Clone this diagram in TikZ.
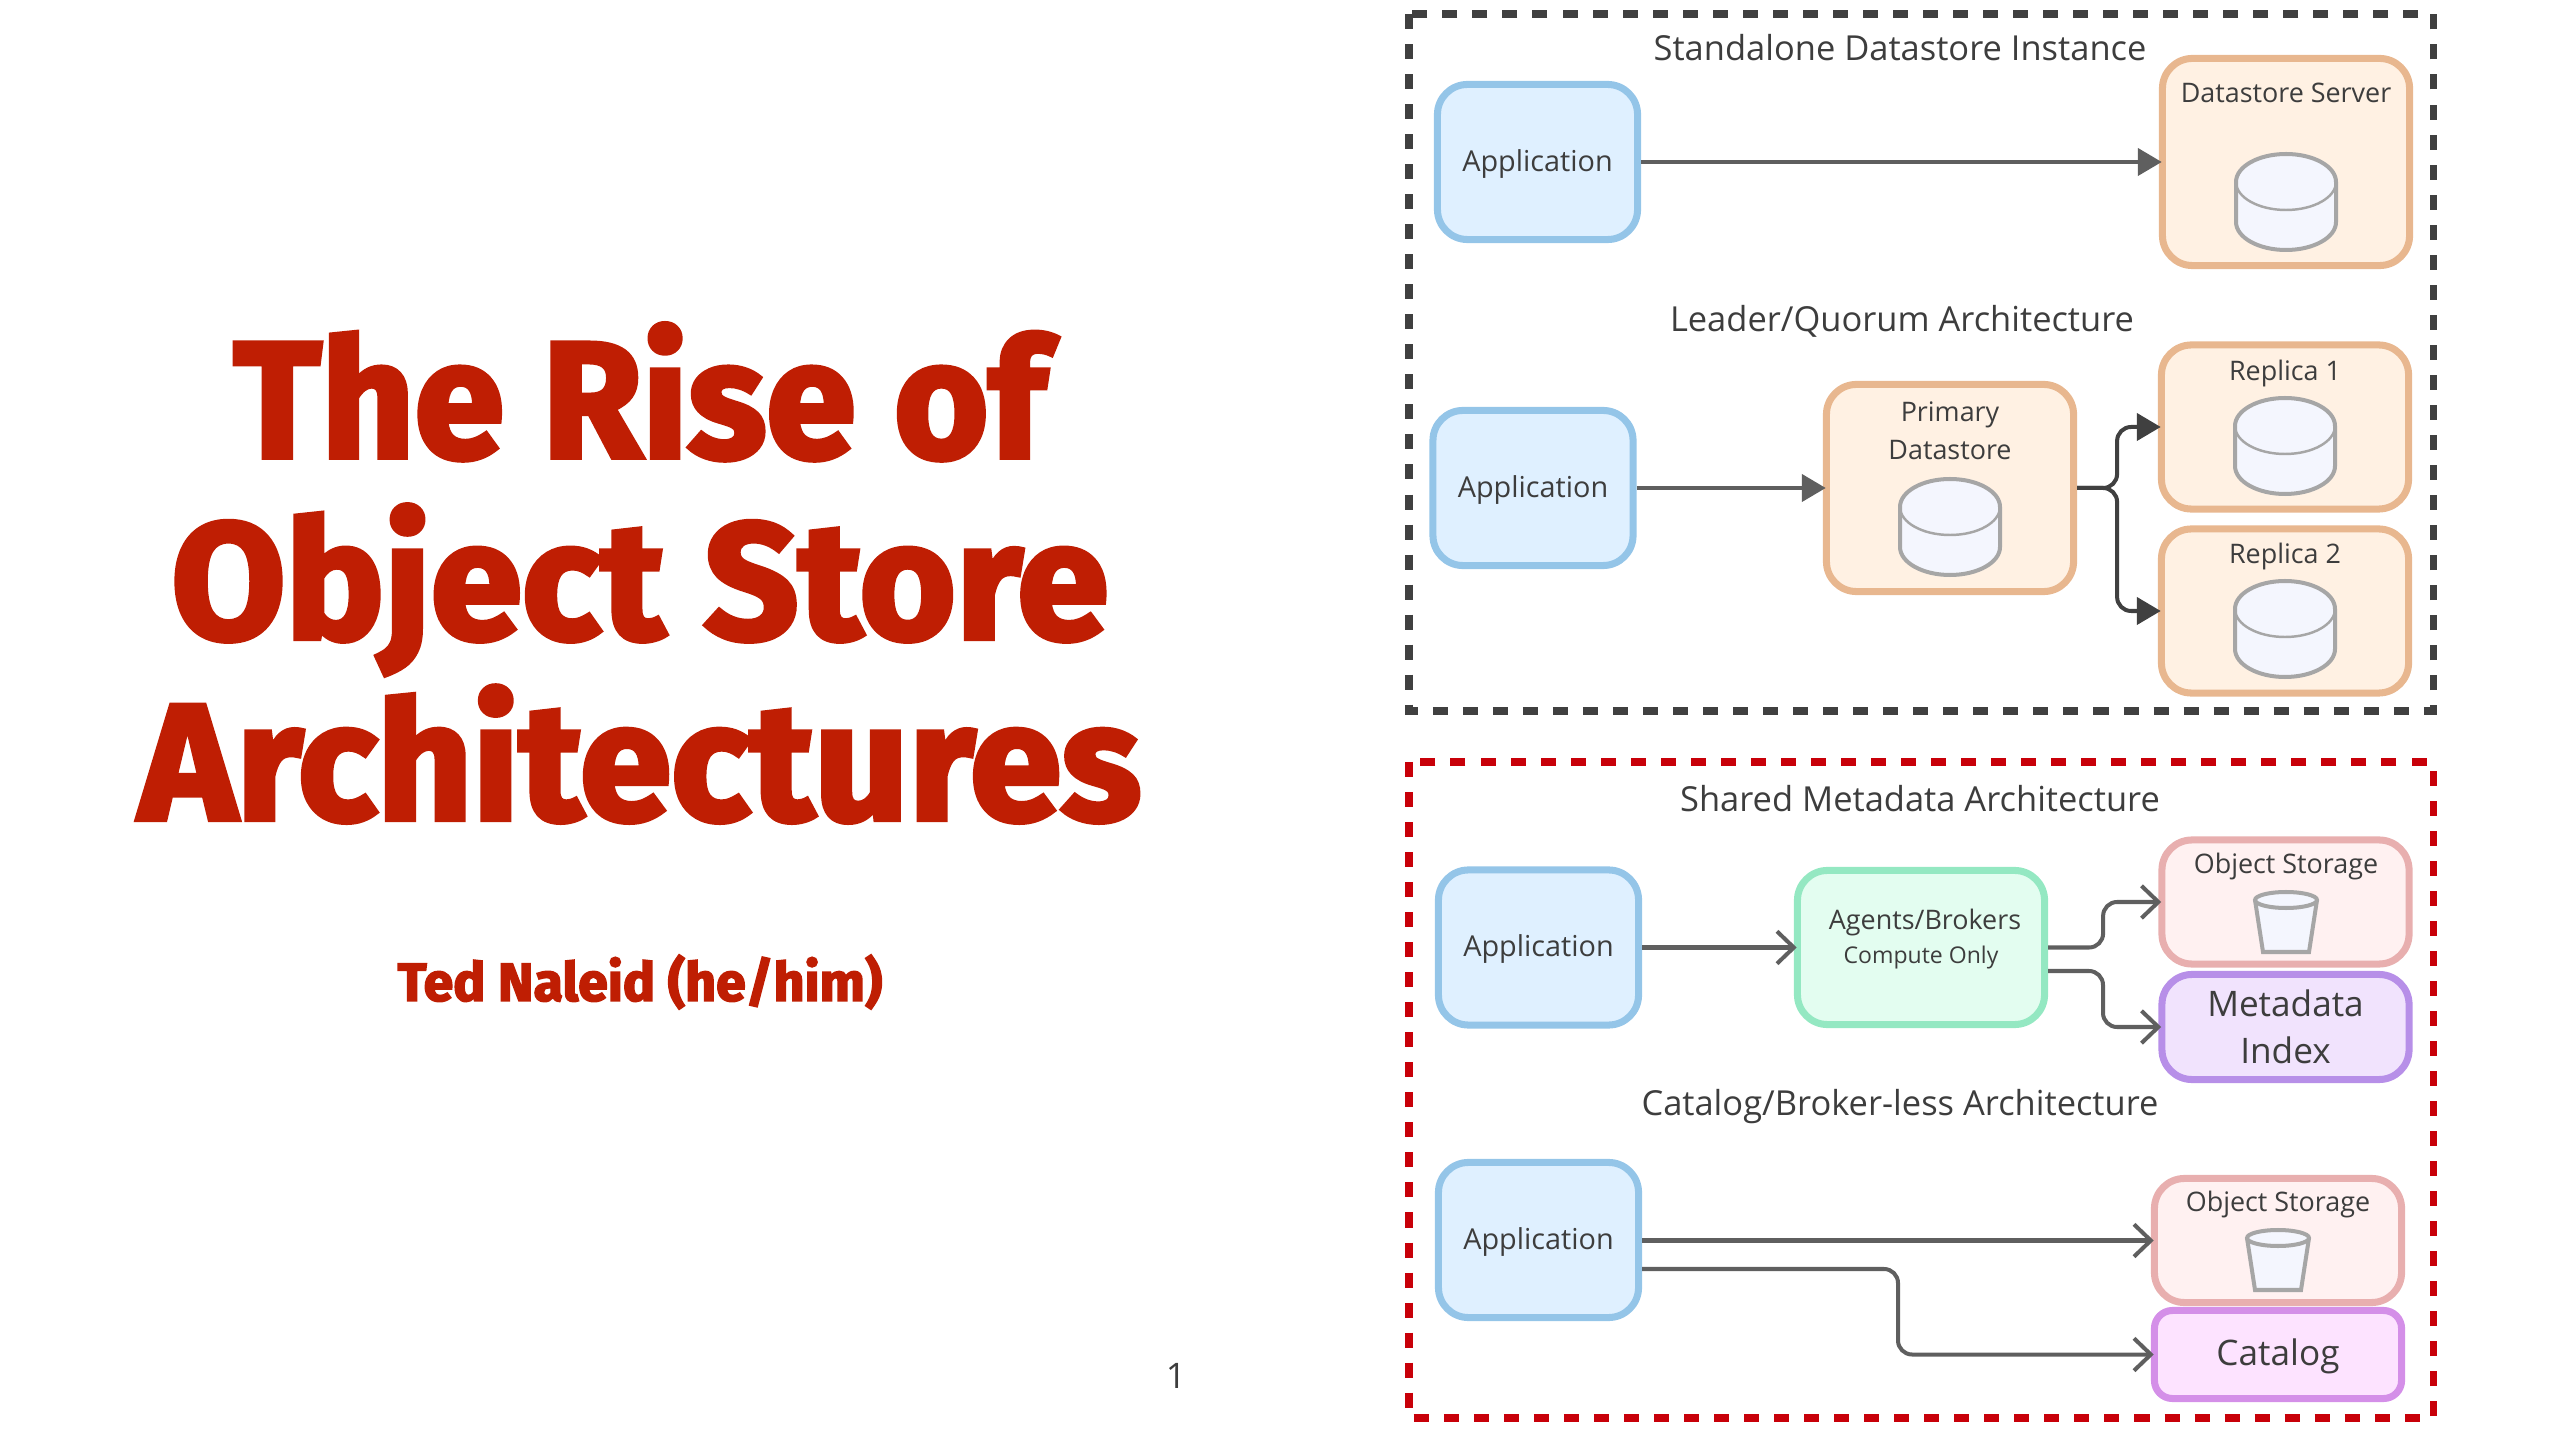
\documentclass[tikz,border=0pt]{standalone}
\usepackage{fontspec}
\setmainfont{Open Sans}
\newfontfamily\titlefont{Fira Sans}[BoldFeatures={FakeBold=3}]
\usetikzlibrary{arrows.meta, positioning}
\definecolor{inktext}{HTML}{3D3D3D}
\definecolor{titlered}{HTML}{BF1E03}
\definecolor{framedark}{HTML}{404040}
\definecolor{framered}{HTML}{C80009}
\definecolor{wireshade}{HTML}{5F5F5F}
\definecolor{cylfill}{HTML}{F4F6FE}
\definecolor{cylline}{HTML}{A6A6A6}
\definecolor{appline}{HTML}{94C5E8}
\definecolor{appfill}{HTML}{DFF0FF}
\definecolor{storeline}{HTML}{E8B78F}
\definecolor{storefill}{HTML}{FFF1E3}
\definecolor{agentline}{HTML}{94E8C2}
\definecolor{agentfill}{HTML}{E3FDF0}
\definecolor{objline}{HTML}{E8AFAF}
\definecolor{objfill}{HTML}{FFF1F1}
\definecolor{metaline}{HTML}{B78FE8}
\definecolor{metafill}{HTML}{F1E3FD}
\definecolor{catline}{HTML}{D48FE8}
\definecolor{catfill}{HTML}{FDE3FF}
\tikzset{
	box/.style={draw,line width=2pt,rounded corners=0.3cm,text=inktext,inner sep=0pt},
	appbox/.style={box,draw=appline,fill=appfill,minimum width=2cm,minimum height=1.55cm,font=\fontsize{8.2}{10}\selectfont,text height=7pt,text depth=1.6pt},
	frame/.style={line width=2pt,dash pattern=on 4.27pt off 4.27pt},
	label/.style={text=inktext,inner sep=0pt},
	heading/.style={label,font=\fontsize{9.8}{12}\selectfont},
	small/.style={label,font=\fontsize{7.65}{10.8}\selectfont,align=center},
	solidtip/.style={-{Triangle[length=6.8pt,width=7.7pt]},line width=1.14pt,wireshade,shorten >=-0.8pt},
	opentip/.style={-{Straight Barb[length=4.8pt,width=9.2pt]},line width=1.14pt,wireshade,rounded corners=0.14cm,shorten >=-0.8pt},
}
% database drum: centre x, top y
\newcommand{\dbdrum}[2]{
	\fill[cylfill] ({#1-50},{#2+28}) arc[start angle=180,end angle=360,x radius=50,y radius=28] -- ({#1+50},{#2+68}) arc[start angle=0,end angle=180,x radius=50,y radius=28] -- cycle;
	\draw[cylline,line width=0.7pt] (#1,{#2+28}) ellipse (50 and 28);
	\draw[cylline,line width=1.14pt] ({#1-50},{#2+28}) arc[start angle=180,end angle=360,x radius=50,y radius=28] -- ({#1+50},{#2+68}) arc[start angle=0,end angle=180,x radius=50,y radius=28] -- cycle;
}
% bucket: centre x, top y
\newcommand{\bucketcup}[2]{
	\draw[cylline,fill=cylfill,line width=1.14pt] ({#1-31},{#2+9}) -- ({#1-23},{#2+61}) -- ({#1+23},{#2+61}) -- ({#1+31},{#2+9});
	\draw[cylline,fill=cylfill,line width=1.14pt] (#1,{#2+9}) ellipse (31 and 8);
}

\begin{document}
\begin{tikzpicture}[x=0.01cm,y=-0.01cm]
	\useasboundingbox (0,0) rectangle (2560,1440);
	% left column
	\node[text=titlered,align=center,font=\fontsize{47}{51.5}\selectfont\titlefont\bfseries] (deck) at (640,573) {\scalebox{0.98}[1]{The Rise of}\\Object Store\\Architectures};
	\node[text=titlered,font=\fontsize{15.25}{18}\selectfont\titlefont\bfseries] (speaker) at (640,982) {Ted Naleid (he/him)};
	\node[label,font=\fontsize{10}{12}\selectfont] (pageno) at (1176,1376) {1};
	% frames
	\draw[frame,framedark] (1409,14) rectangle (2433,711);
	\draw[frame,framered] (1409,762) rectangle (2433,1418);
	% standalone
	\node[heading] (standalone) at (1900,48) {Standalone Datastore Instance};
	\node[appbox] (app1) at (1537.5,162) {Application};
	\node[box,draw=storeline,fill=storefill,minimum width=2.47cm,minimum height=2.07cm] (server) at (2286,162) {};
	\node[small] (serverlbl) at (2286,93) {Datastore Server};
	\dbdrum{2286}{154}
	\draw[solidtip] (app1) -- (server);
	% leader
	\node[heading] (leader) at (1902,321) {Leader/Quorum Architecture};
	\node[appbox] (app2) at (1533,488) {Application};
	\node[box,draw=storeline,fill=storefill,minimum width=2.47cm,minimum height=2.07cm] (primary) at (1950,488) {};
	\node[small] (primarylbl) at (1950,431) {Primary\\Datastore};
	\dbdrum{1950}{479}
	\node[box,draw=storeline,fill=storefill,minimum width=2.47cm,minimum height=1.64cm] (replica1) at (2285,427) {};
	\node[small] (replica1lbl) at (2285,374) {Replica 1};
	\dbdrum{2285}{398}
	\node[box,draw=storeline,fill=storefill,minimum width=2.47cm,minimum height=1.64cm] (replica2) at (2285,611) {};
	\node[small] (replica2lbl) at (2285,557) {Replica 2};
	\dbdrum{2285}{581}
	\draw[solidtip] (app2) -- (primary);
	\draw[solidtip,framedark,rounded corners=0.14cm] (primary.east) -- ++(40,0) |- (replica1.west);
	\draw[solidtip,framedark,rounded corners=0.14cm] (primary.east) -- ++(40,0) |- (replica2.west);
	% shared metadata
	\node[heading] (shared) at (1920,799) {Shared Metadata Architecture};
	\node[appbox] (app3) at (1538.5,947.5) {Application};
	\node[box,draw=agentline,fill=agentfill,minimum width=2.47cm,minimum height=1.54cm] (agents) at (1921,947.5) {};
	\node[small] (agentslbl) at (1925,923) {Agents/Brokers};
	\node[small,font=\fontsize{6.55}{9}\selectfont] (computelbl) at (1921,958) {Compute Only};
	\node[box,draw=objline,fill=objfill,minimum width=2.47cm,minimum height=1.24cm] (objstore1) at (2285.5,902) {};
	\node[small] (objstore1lbl) at (2286,867) {Object Storage};
	\bucketcup{2286}{891}
	\node[box,draw=metaline,fill=metafill,minimum width=2.47cm,minimum height=1.05cm,font=\fontsize{10}{13.5}\selectfont,align=center] (metaidx) at (2285.5,1027) {Metadata\\Index};
	\coordinate (agentslow) at (2048,971);
	\draw[opentip] (app3) -- (agents);
	\draw[opentip] (agents.east) -- ++(55,0) |- (objstore1.west);
	\draw[opentip] (agentslow) -- ++(55,0) |- (metaidx.west);
	% catalog
	\node[heading] (catalogttl) at (1900,1107) {Catalog/Broker-less Architecture};
	\node[appbox] (app4) at (1538.5,1240) {Application};
	\node[box,draw=objline,fill=objfill,minimum width=2.47cm,minimum height=1.24cm] (objstore2) at (2278,1240.5) {};
	\node[small] (objstore2lbl) at (2278,1205) {Object Storage};
	\bucketcup{2278}{1229}
	\node[box,draw=catline,fill=catfill,rounded corners=0.18cm,minimum width=2.47cm,minimum height=0.88cm,font=\fontsize{10}{12}\selectfont,text height=8.5pt,text depth=2pt] (catalog) at (2278,1354.5) {Catalog};
	\coordinate (app4low) at (1642,1269);
	\draw[opentip] (app4.east |- objstore2.west) -- (objstore2.west);
	\draw[opentip] (app4low) -- ++(256,0) |- (catalog.west);
\end{tikzpicture}
\end{document}
